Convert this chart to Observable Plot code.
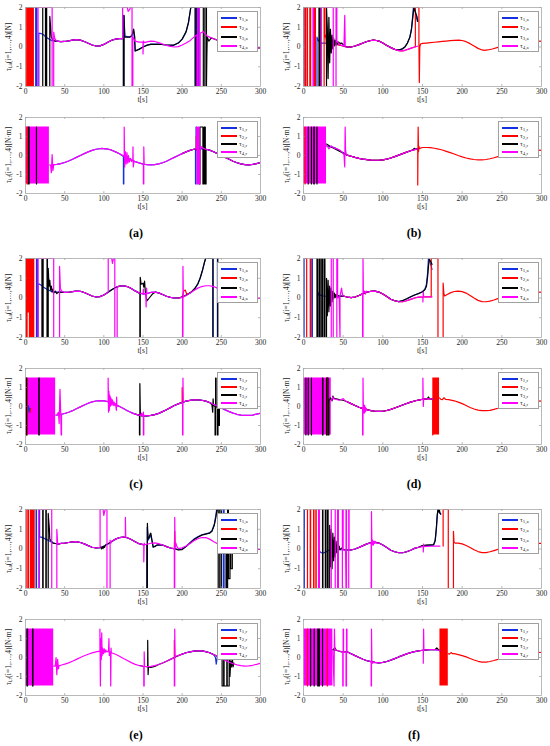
<!DOCTYPE html>
<html><head><meta charset="utf-8">
<script src="https://cdn.jsdelivr.net/npm/d3@7"></script>
<script src="https://cdn.jsdelivr.net/npm/@observablehq/plot@0.6"></script>
<style>
body{margin:0;background:#fff;}
#fig{position:relative;width:550px;height:746px;overflow:hidden;font-family:"Liberation Serif",serif;color:#262626;background:#fff;}
#fig svg{position:absolute;overflow:visible;}
.ylab{position:absolute;white-space:nowrap;font-size:7.5px;transform:translate(-50%,-50%) rotate(-90deg);}
.xlab{position:absolute;font-size:7.5px;transform:translateX(-50%);white-space:nowrap;}
.leg{position:absolute;background:#fff;border:1px solid #a0a0a0;box-sizing:border-box;}
.leg .ln{position:absolute;left:3px;width:16px;height:2px;}
.leg .tx{position:absolute;left:21px;font-size:7px;line-height:8px;white-space:nowrap;}
.tag{position:absolute;font-weight:bold;font-size:12px;transform:translateX(-50%);color:#000;}
sub{font-size:70%;vertical-align:-0.3em;line-height:0;}
</style>
</head><body>
<div id="fig"></div>
<script>
const T_TICKS=[0,50,100,150,200,250,300];
const V_TICKS=[-2,-1,0,1,2];
const COLORS=["#1530e0","#ff0000","#000000","#ff00ff"];
const LEG_IDX=["1","2","3","4"];
const TAGS=["(a)","(b)","(c)","(d)","(e)","(f)"];
const _=null;

// ---------- (a) ----------
const A1_BASE=[[38,0.38],[40,0.3],[45,0.27],[50,0.28],[55,0.31],[60,0.35],[65,0.37],[70,0.35],[75,0.28],[80,0.19],[85,0.1],[90,0.05],[95,0.06],[100,0.13],[105,0.24],[110,0.34],[115,0.4],[120,0.42],[124,0.42],[155,0.26],[160,0.3],[165,0.28],[170,0.22],[175,0.15],[180,0.08],[185,0.03],[190,0.0],[195,0.02],[200,0.1],[205,0.2],[210,0.32],[232,0.55],[240,0.42],[245,0.35],[250,0.3],[255,0.25],[260,0.2],[265,0.15],[270,0.1],[275,0.06],[280,0.03],[285,0.0],[290,-0.02],[295,-0.04],[300,-0.05]];
const A1_BLUE=[[13,-2],[13,2],[14.5,2],[14.5,-2],[17,-2],[17,0.7],[20,0.68],[23,0.62],[26,0.5],[30,0.4],[34,0.32],[38,0.3],["B",40,124],[125,0.42],[125,-2],[125.5,-2],[125.5,1.6],[127,0.55],[133,0.5],[136,0.55],[138,0.9],[140,-0.2],[145,-0.1],[150,0.0],[155,0.1],[160,0.15],[170,0.15],[180,0.1],[189,0.08],[195,0.2],[200,0.4],[205,0.75],[208,1.2],[211,2],[217,2],[217,-2],[218.5,-2],[218.5,2],[221,2],[221,-2],[222,-2]];
const A1_RED=[[0,2],[0.8,2],[0.8,-2],[2.5,-2],[2.5,2],[3.5,2],[3.5,-2],[5,-2],[5,2],[6,2],[6,-2],[7.5,-2],[7.5,2],[8.5,2],[8.5,-2],[10,-2],[10,2],[10.5,2]];
const A1_BLACK=[[22,2],[22,-2],[25.5,-2],[25.5,2],[27,2],[27,-2],[31,-2],[31,1.55],[33,0.5],[35,0.35],[38,0.3],["B",40,124],[125,0.42],[125,-2],[125.8,-2],[125.8,1.6],[126.5,0.5],[133,0.5],[136,0.6],[138,0.9],[139.5,0.5],[140,-0.2],[145,-0.12],[150,0.0],[155,0.08],[160,0.13],[170,0.14],[180,0.1],[189,0.1],[195,0.2],[200,0.4],[205,0.78],[208,1.25],[211,2],[216.5,2],[216.5,-2],[219,-2],[219,2],[227,2],[227,-2],[229,-2],[229,2],[231,2],[231,-2],[231.5,-0.45],[232,0.5],[234,0.3],[237,0.45],[240,0.42],["B",245,300]];
const A1_MAG=[[16,-2],[16,2],[34,2],[34,-2],[36,-2],[36,0.75],[37,0.5],["B",38,124],[124,2],[130,2],[131,1.8],[133,1.9],[134,2],[136,2],[136,-2],[137,-2],[137,0.5],[140,0.3],[145,0.25],[150,0.25],[150,-0.35],[150.5,0.3],[152,0.22],["B",155,210],[215,0.5],[218,0.6],[219,0.6],[219,-2],[220,-2],[220,2],[222,2],[222,-2],[223,-2],[223,0.7],[227,0.78],["B",232,300]];

const A2_BASE=[[35,-0.48],[40,-0.47],[45,-0.43],[50,-0.37],[55,-0.29],[60,-0.2],[65,-0.1],[70,0.0],[75,0.1],[80,0.19],[85,0.27],[90,0.33],[97,0.37],[105,0.34],[110,0.28],[115,0.19],[120,0.09],[125,-0.02],[130,-0.13],[135,-0.23],[140,-0.32],[145,-0.39],[150,-0.45],[155,-0.48],[160,-0.49],[165,-0.48],[170,-0.44],[175,-0.38],[180,-0.3],[185,-0.2],[190,-0.1],[195,0.0],[200,0.1],[205,0.19],[210,0.27],[215,0.33],[220,0.36],[225,0.36],[230,0.33],[235,0.28],[240,0.2],[245,0.1],[250,0.0],[255,-0.1],[260,-0.2],[265,-0.3],[270,-0.38],[275,-0.44],[280,-0.48],[285,-0.49],[290,-0.47],[295,-0.43],[300,-0.37]];
const A2_BLOCKS=[[0,30.5,-1.5,1.5,3]];
const A2_BLUE=[["B",35,124],[125,-0.05],[125,-1.5],[125.5,-1.5],[125.5,0.0],[127,-0.1],["B",130,216],[217,0.35],[217,-1.5],[217.7,-1.5],[217.7,1.5],[218.3,1.5],[218.3,0.3],["B",225,300]];
const A2_RED=[[2,-1.5],[2,1.5],[2.6,1.5],[2.6,-1.5],_,[217,0.34],[218,0.34],[218,1.0],[218.5,0.3],_];
const A2_BLACK=[[4,-1.5],[4,1.5],[4.6,1.5],[4.6,-1.5],_,[14,-1.5],[14,1.5],_,["B",200,220],[222,0.36],[222,-1.5],[222.7,-1.5],[222.7,1.5],[226.5,1.5],[226.5,-1.5],[228,-1.5],[228,1.5],[229.5,1.5],[229.5,-1.5],[230.5,-1.5],[230.5,0.33],["B",235,300]];
const A2_MAG=[[30.5,-0.5],[32,-0.5],[33,-0.9],[34,0.05],[35,-0.8],[36,-0.48],["B",40,124],[125,-0.02],[126,-0.05],[126,1.5],[126.6,-0.6],[127.5,0.2],[128.5,-0.45],[129.5,0.15],[130.5,-0.4],[131.5,0.0],[132.5,-0.35],[134,-0.15],[135.5,-0.32],[137,-0.2],[137.2,0.45],[137.6,-0.6],[138.5,-0.3],["B",140,149],[150.5,-0.46],[150.5,-1.5],[151,-1.5],[151,0.45],[151.5,-0.46],["B",155,217],[218.5,0.36],[218.5,1.5],[219.2,1.5],[219.2,-1.5],[220.5,-1.5],[220.5,1.5],[221.5,1.5],[221.5,-1.5],[222.5,-1.5],[222.5,0.2],[224,0.48],[226,0.4],["B",230,300]];

// ---------- (b) ----------
const B1_BASE=[[55,0.0],[60,0.0],[65,0.05],[70,0.12],[75,0.2],[80,0.28],[85,0.33],[88,0.35],[92,0.33],[95,0.3],[100,0.2],[105,0.08],[110,-0.03],[115,-0.12],[120,-0.18],[123,-0.2],[127,-0.18],[130,-0.14],[135,-0.07],[140,0.0],[144,0.04]];
const B1_BLUE=[[0,-2],[0,2],[0.6,2],[0.6,-2],_,[17,-2],[17,0.5],[19,0.3],[22,0.2],[30,0.2],[40,0.15],[50,0.05],["B",55,119],[120,-0.15],[125,-0.1],[128,0.0],[131,0.2],[134,0.5],[136,0.9],[137.5,1.5],[138.5,2],[139.5,2],[140.5,1.9],[142,1.6],[143.5,1.3]];
const B1_RED=[[0,2],[2,2],[2,-2],[3,-2],[3,2],[5,2],[5,-2],[8,-2],[8,2],[9,2],[9,-2],[14,-2],[14,2],[15,2],[15,-2],[26,-2],[26,2],[27,2],[27,0.5],[28,0.6],[29,0.1],[35,0.15],[45,0.1],[50,0.05],["B",55,140],[141,0.0],[141,2],[145.5,2],[145.5,0.2],[146,-1.8],[146.6,0.0],[147.5,0.15],[150,0.18],[155,0.2],[160,0.22],[165,0.24],[170,0.26],[175,0.28],[180,0.3],[185,0.32],[190,0.34],[196,0.35],[200,0.33],[205,0.27],[210,0.17],[215,0.05],[220,-0.07],[225,-0.15],[228,-0.17],[232,-0.15],[238,-0.1],[245,-0.02],[250,0.04],[255,0.1],[260,0.14],[265,0.17],[270,0.19],[275,0.2],[280,0.22],[285,0.24],[290,0.26],[295,0.28],[300,0.3]];
const B1_BLACK=[[19.5,2],[19.5,-2],[21,-2],[21,2],[22,2],[22,-2],[29,-2],[29,2],[30,1.0],[31,-1.6],[32,1.5],[33,-0.8],[34,0.9],[35,-0.3],[36,0.6],[37,-0.1],[38,0.45],[39,0.05],[40,0.35],[41,0.1],[42,0.3],[43,0.15],[44,0.25],[46,0.18],[48,0.2],[50,0.12],[52,0.05],["B",55,119],[120,-0.15],[125,-0.08],[128,0.02],[131,0.2],[134,0.48],[136,0.85],[137.5,1.4],[139,1.95],[140,1.9],[141.5,1.7],[143,1.55],[144,1.3]];
const B1_MAG=[[12,-2],[12,2],[12.6,2],[12.6,-2],_,[22,-2],[22,2],[37.5,2],[37.5,-2],[41,-2],[41,2],[42,2],[42,0.3],[45,0.15],[48,0.08],[51,0.05],[52,1.6],[52.6,0.0],["B",55,144]];

const B2_BASE=[[55,0.02],[60,-0.04],[65,-0.1],[70,-0.15],[75,-0.19],[80,-0.22],[85,-0.24],[90,-0.25],[95,-0.25],[100,-0.23],[105,-0.19],[110,-0.13],[115,-0.06],[120,0.02],[125,0.1],[130,0.18],[135,0.25],[140,0.31],[144,0.35]];
const B2_BLOCKS=[[0,29,-1.5,1.5,3]];
const B2_BLUE=[[29,0.5],[35,0.45],[40,0.4],[50,0.15],["B",55,144]];
const B2_RED=[[2,-1.5],[2,1.5],_,["B",55,143],[144,0.36],[144,-1.55],[144.5,1.5],[145,0.2],[145.5,0.5],[146,0.35],[148,0.4],[150,0.42],[155,0.42],[160,0.41],[165,0.38],[170,0.34],[175,0.29],[180,0.22],[185,0.15],[190,0.08],[195,0.0],[200,-0.07],[205,-0.13],[210,-0.18],[215,-0.21],[220,-0.23],[225,-0.23],[230,-0.21],[235,-0.17],[240,-0.12],[245,-0.06],[250,0.0],[255,0.06],[260,0.12],[265,0.18],[270,0.23],[275,0.28],[280,0.3],[285,0.32],[290,0.32],[295,0.3],[300,0.27]];
const B2_BLACK=[[6,-1.5],[6,1.5],_,[10,-1.5],[10,1.5],_,[13,-1.5],[13,1.5],[13.6,1.5],[13.6,-1.5],_,[17,-1.5],[17,1.5],_,[29,0.6],[31,0.55],[33,0.5],[35,0.45],["B",55,135],[138,0.3],[139.5,0.38],[141,0.33],["B",144,144]];
const B2_MAG=[[29,0.55],[30,0.5],[32,0.35],[35,0.5],[38,0.4],[42,0.35],[45,0.3],[48,0.2],[50,0.1],[51,0.05],[52,-0.6],[52.5,1.5],[53,0.3],[54,0.05],["B",55,144]];

// ---------- (c) ----------
const C1_BASE=[[45,0.3],[50,0.28],[55,0.29],[60,0.32],[65,0.35],[70,0.34],[75,0.28],[80,0.19],[85,0.1],[90,0.05],[95,0.07],[100,0.15],[105,0.28],[110,0.42],[115,0.53],[120,0.6],[125,0.62],[130,0.58],[135,0.48],[140,0.36],[145,0.26],[150,0.2],[155,0.22],[160,0.28],[165,0.3],[170,0.26],[175,0.18],[180,0.09],[185,0.03],[190,0.0],[195,0.0],[200,0.04],[205,0.13],[210,0.25],[215,0.38],[220,0.5],[225,0.58],[230,0.62],[235,0.62],[240,0.58],[245,0.5],[250,0.4],[255,0.3],[260,0.21],[265,0.14],[270,0.08],[275,0.04],[280,0.01],[285,-0.01],[290,-0.02],[295,-0.02],[300,0.0]];
const C1_BLUE=[[14,-2],[14,2],[15.5,2],[15.5,-2],[16,-2],[16,0.7],[18,0.7],[20,0.65],[23,0.55],[27,0.45],[32,0.35],[38,0.3],[44,0.3],["B",45,204],[208,0.2],[212,0.3],[216,0.45],[220,0.7],[223,1.0],[226,1.4],[228.5,1.8],[230,2],[239,2],[239,-2],[245,-2],[245,2]];
const C1_RED=[[0,2],[0.8,2],[0.8,-2],[2,-2],[2,2],[3,2],[3,-0.7],[3.5,1.5],[4,-0.7],[4.5,2],[5,2],[5,-2],[6.5,-2],[6.5,2],[7.5,2],[7.5,-2],[8.5,-2],[8.5,2],[9.5,2],[9.5,-2],[10.5,-2],[10.5,2],[11,2],_,[195,0.0],[200,0.04],[202,0.35],[204,0.4],[206,0.18],[210,0.25],_];
const C1_BLACK=[[21,-2],[21,2],[22.5,2],[22.5,-2],[27.5,-2],[27.5,2],[28,2],[28,-2],[29,-2],[29,1.5],[30,0.6],[31,0.9],[32,0.4],[33,0.6],[34,0.3],[35,0.45],[36,0.25],[38,0.35],[40,0.22],[42,0.3],[44,0.28],["B",45,144],[146,0.23],[146,-2],[146.5,-2],[146.5,1.05],[147.5,0.7],[150,0.75],[151,0.55],[152,0.85],[153,0.3],[155,-0.15],[158,0.0],[162,0.2],[166,0.3],["B",170,204],[208,0.21],[212,0.32],[216,0.48],[220,0.72],[223,1.02],[226,1.42],[228.5,1.82],[230,2],[239.5,2],[239.5,-2],[245.5,-2],[245.5,2]];
const C1_MAG=[[16,-2],[16,2],[36,2],[36,-2],[43.5,-2],[43.5,1.6],[44.5,0.5],[46,0.35],["B",50,105],[105.6,0.3],[105.6,2],[110,2],[111,1.75],[112,1.95],[112.5,2],[114,2],[114,-2],[117,-2],[117,0.55],["B",120,149],[150,0.2],[150.5,0.45],[151,0.2],[153.5,0.22],[154,-0.45],[154.5,0.5],[155,0.22],["B",160,199],[200.5,0.03],[200.5,-2],[201,-2],[201,1.6],[201.5,0.05],["B",205,300]];

const C2_BASE=[[40,-0.45],[45,-0.42],[50,-0.37],[55,-0.3],[60,-0.22],[65,-0.12],[70,-0.02],[75,0.08],[80,0.17],[85,0.24],[90,0.29],[95,0.31],[100,0.3],[105,0.26],[110,0.2],[115,0.11],[120,0.0],[125,-0.11],[130,-0.22],[135,-0.32],[140,-0.4],[145,-0.45],[150,-0.48],[155,-0.49],[160,-0.47],[165,-0.43],[170,-0.36],[175,-0.27],[180,-0.17],[185,-0.06],[190,0.05],[195,0.14],[200,0.22],[205,0.28],[210,0.32],[215,0.35],[220,0.35],[225,0.33],[230,0.28],[235,0.21],[240,0.12],[245,0.02],[250,-0.08],[255,-0.18],[260,-0.27],[265,-0.35],[270,-0.41],[275,-0.45],[280,-0.47],[285,-0.47],[290,-0.45],[295,-0.4],[300,-0.35]];
const C2_BLOCKS=[[0,38.5,-1.5,1.5,3]];
const C2_BLUE=[[3.5,0.05],[4.5,-0.3],[5,-0.1],_,["B",40,300]];
const C2_RED=[[2,-1.5],[2,1.5],_,[6,-0.3],[6.5,-0.1],_,[199,0.2],[200,0.2],[200,1.0],[200.6,0.2],_];
const C2_BLACK=[[1,-1.5],[1,1.5],[1.5,1.5],[1.5,-1.5],_,[17,-1.5],[17,1.5],[17.5,1.5],[17.5,-1.5],_,["B",140,145],[145.5,-0.45],[145.5,-1.5],[146,-1.5],[146,1.2],[146.6,-0.4],[148,-0.5],["B",150,237],[238,0.1],[239,-0.3],[239.5,0.4],[240,0.05],[242,0.0],[242,-1.5],[242.7,-1.5],[242.7,1.5],[243.3,1.5],[243.3,0.0],[245,-0.05],[245,-1.5],[245.7,-1.5],[245.7,1.5],[246.5,1.5],[246.5,-1.0],[247.5,-1.0],[247.5,1.5],[248,1.5],[248,-0.1],[250,-0.08]];
const C2_MAG=[[38.5,-0.45],[40,-0.45],[42,-0.3],[43,-0.9],[44,0.9],[45,-0.4],[45.5,-1.5],[46,-1.5],[46,-0.4],["B",50,105],[105.5,0.27],[105.5,1.5],[106,-0.3],[106.5,0.8],[107,-0.2],[107.5,0.6],[108,0.0],[108.5,0.5],[109,0.05],[109.5,0.4],[110,0.1],[111,0.35],[112,0.05],[113,0.25],[114,0.05],[115,0.15],[116,-0.2],[116.3,0.5],[116.7,0.0],[118,0.05],["B",120,145],[147,-0.48],[148,-0.35],[149,-0.5],[150,-0.4],[150.5,-0.3],[150.5,-1.5],[151,-1.5],[151,-0.45],["B",155,199],[200.5,0.22],[200.5,-1.5],[201,-1.5],[201,1.5],[201.5,0.25],["B",205,300]];

// ---------- (d) ----------
const D1_BASE=[[50,0.1],[55,0.05],[60,0.02],[65,0.05],[70,0.13],[75,0.22],[80,0.3],[85,0.34],[90,0.35],[95,0.3],[100,0.2],[105,0.07],[110,-0.06],[115,-0.14],[120,-0.19],[125,-0.19],[130,-0.14],[135,-0.07],[140,0.0],[145,0.04],[150,0.05],[155,0.06],[160,0.06],[162,0.06]];
const D1_BLUE=[[0,-2],[0,2],[0.7,2],[0.7,-2],[10.5,-2],[10.5,2],[11.2,2],[11.2,-2],[18,-2],[18,0.3],[20,0.1],[22,0.15],[25,0.1],[35,0.08],[45,0.1],["B",50,119],[120,-0.18],[125,-0.14],[130,-0.05],[135,0.05],[140,0.15],[145,0.22],[150,0.32],[153,0.45],[155,0.7],[156.5,1.3],[157.5,2],[158.5,2],[159.5,1.8],[161,1.6],[162,1.45]];
const D1_RED=[[0,2],[4,2],[4,-2],[8.5,-2],[8.5,2],[9,2],[9,-2],_,["B",50,160],[161,0.06],[161,2],[169.5,2],[169.5,-2],[176,-2],[176,0.75],[177,0.2],[178,0.1],[180,0.15],[185,0.26],[190,0.33],[195,0.35],[200,0.32],[205,0.25],[210,0.13],[215,0.0],[220,-0.12],[225,-0.18],[230,-0.19],[235,-0.16],[240,-0.1],[245,-0.03],[250,0.03],[255,0.09],[260,0.13],[265,0.16],[270,0.18],[275,0.2],[280,0.22],[285,0.24],[290,0.26],[295,0.28],[300,0.3]];
const D1_BLACK=[[17,-2],[17,2],[18,2],[18,-2],[20,-2],[20,2],[21,2],[21,-2],[23,-2],[23,2],[24,2],[24,-2],[26,-2],[26,2],[27,2],[27,-2],[29,-2],[29,1.0],[30,-0.9],[31,0.9],[32,-0.7],[33,0.6],[34,-0.4],[35,0.5],[36,-0.2],[37,0.35],[38,-0.05],[39,0.25],[40,0.02],[41,0.18],[42,0.05],[44,0.12],[46,0.08],[48,0.1],["B",50,119],[120,-0.18],[125,-0.13],[130,-0.04],[135,0.06],[140,0.15],[145,0.23],[150,0.32],[153,0.42],[155,0.6],[156.5,1.1],[157.5,1.6],[158.5,1.95],[159.5,1.9],[161,1.8],[162,1.7]];
const D1_MAG=[[35,-2],[35,2],[37.5,2],[37.5,-2],[42,-2],[42,2],[43,2],[43,0.0],[45,0.05],[46,-2],[46,0.1],[48,0.5],[49,0.2],["B",50,74],[74.5,0.22],[74.5,-2],[75,-2],[75,2],[75.5,0.25],[77,0.35],[78,0.2],[79,0.35],[80,0.3],["B",85,149],[150.5,0.05],[150.5,-0.2],[151,0.3],[151.5,0.05],["B",155,162]];

const D2_BASE=[[55,0.25],[60,0.15],[65,0.05],[70,-0.04],[75,-0.11],[80,-0.17],[85,-0.22],[90,-0.25],[95,-0.26],[100,-0.25],[105,-0.21],[110,-0.15],[115,-0.08],[120,0.0],[125,0.08],[130,0.16],[135,0.23],[140,0.29],[145,0.34],[150,0.38],[155,0.4],[160,0.4],[163,0.38]];
const D2_BLOCKS=[[0,35,-1.5,1.5,3],[163,171.5,-1.5,1.5,1]];
const D2_BLUE=[["B",55,163]];
const D2_RED=[[30,-1.5],[30,1.5],_,["B",55,160],[163,0.38],[163,-1.5],_,[171.5,0.45],[173,0.38],[175,0.36],[177,0.46],[179,0.38],[183,0.36],[190,0.3],[195,0.23],[200,0.15],[205,0.05],[210,-0.05],[215,-0.13],[220,-0.19],[225,-0.22],[230,-0.22],[235,-0.2],[240,-0.15],[245,-0.09],[250,-0.02],[255,0.05],[260,0.12],[265,0.18],[270,0.23],[275,0.27],[280,0.3],[285,0.31],[290,0.31],[295,0.3],[300,0.28]];
const D2_BLACK=[[3,-1.5],[3,1.5],_,[6,-1.5],[6,1.5],_,[10,-1.5],[10,1.5],_,[24,-1.5],[24,1.5],[24.5,1.5],[24.5,-1.5],_,[29,-1.5],[29,1.5],[31,1.5],[31,-1.5],[32,-1.5],[32,0.3],[34,0.45],[36,0.3],[37,0.55],[38,0.45],[40,0.42],[45,0.36],[50,0.33],["B",55,155],[156,0.42],[157.5,0.5],[159,0.42],["B",160,163]];
const D2_MAG=[[35,0.3],[37,0.5],[38,0.4],[40,0.38],[45,0.33],[48,0.38],[50,0.42],[52,0.32],["B",55,74],[74.5,-0.1],[74.5,-1.5],[75,-1.5],[75,1.5],[75.5,-0.3],[76,0.1],[76.5,-0.35],[77,0.05],[77.5,-0.3],[78,-0.05],[78.5,-0.25],[79,-0.1],[80,-0.17],["B",85,150],[150.5,0.38],[150.5,1.5],[151,0.0],[151.5,0.39],["B",155,163]];

// ---------- (e) ----------
const E1_BASE=[[42,0.25],[45,0.28],[50,0.3],[55,0.33],[60,0.36],[65,0.37],[70,0.33],[75,0.26],[80,0.17],[85,0.09],[90,0.05],[95,0.07],[100,0.14],[105,0.25],[110,0.38],[115,0.5],[120,0.58],[125,0.6],[130,0.57],[135,0.48],[140,0.37],[145,0.27],[150,0.22],[155,0.24],[160,0.29],[165,0.31],[170,0.27],[175,0.2],[180,0.12],[185,0.05],[190,0.02],[195,0.02],[200,0.06],[205,0.15],[210,0.28],[215,0.42],[220,0.52],[225,0.58],[230,0.58],[235,0.5],[240,0.38],[245,0.27],[250,0.2],[255,0.14],[260,0.1],[265,0.06],[270,0.04],[275,0.02],[280,0.0],[285,-0.01],[290,-0.02],[295,-0.02],[300,-0.02]];
const E1_BLUE=[[13.5,-2],[13.5,2],[14,2],[14,-2],[17.5,-2],[17.5,2],[18,2],[18,0.6],[20,0.6],[23,0.55],[26,0.5],[30,0.42],[34,0.33],[38,0.28],["B",42,154],[155,0.24],[155,-2],[155.4,-2],[155.4,1.1],[156.5,0.45],[160,0.7],[163,0.1],[168,0.2],["B",175,189],[195,-0.03],[200,0.0],[205,0.14],[210,0.32],[215,0.5],[220,0.62],[225,0.72],[230,0.77],[235,0.82],[238,0.92],[241,1.25],[243,1.7],[244,2],[252.5,2],[252.5,-2],[253.5,-2],[253.5,2],[254,2]];
const E1_RED=[[0,2],[0.8,2],[0.8,-2],[3,-2],[3,2],[4,2],[4,-2],[6.5,-2],[6.5,2],[7.5,2],[7.5,-2],[8.5,-2],[8.5,2],[9.5,2],[9.5,-2],[11,-2],[11,2],[11.5,2],_,[188,0.02],[190,0.02],[190.5,0.9],[191,0.1],_];
const E1_BLACK=[[22,-2],[22,2],[22.5,2],[22.5,-2],[26,-2],[26,2],[26.5,2],[26.5,-2],[29,-2],[29,1.8],[30.5,1.0],[31,0.5],[33,0.4],[35,0.3],[38,0.28],["B",42,95],[96,0.1],[97,0.0],[98,0.12],[99,0.02],[100,0.15],[101,0.08],[102,0.2],["B",105,154],[155,0.24],[155,-2],[155.6,-2],[155.6,1.3],[156.5,0.5],[158,0.6],[159,0.75],[160,0.8],[161,0.55],[163,0.1],[165,0.12],[168,0.2],[172,0.22],["B",175,189],[192,0.0],[195,-0.05],[200,-0.03],[205,0.12],[210,0.3],[215,0.47],[220,0.6],[225,0.7],[230,0.75],[235,0.8],[238,0.9],[241,1.2],[243,1.6],[244.5,2],[246,2],[246,-2],[248,-2],[248,2],[250,2],[250,-2],[256,-2],[256,1.0],[256.5,1.0],[256.5,-2],[258,-2],[258,2],[259,2],[259,-1.5],[261,-1.5],[261,0.5],[262,0.5],[262,-1.0],[264,-1.0],[264,0.5],[266,0.1],[270,0.05]];
const E1_MAG=[[17,-2],[17,2],[33.5,2],[33.5,-2],[40,-2],[40,1.0],[41,0.3],["B",42,94],[95.2,0.08],[95.2,2],[99,2],[100,1.7],[101,1.9],[102,2],[104,2],[104,-2],[108,-2],[108,0.45],[109,0.3],[110,0.38],["B",115,127],[127.5,0.6],[127.5,1.6],[128,0.6],["B",130,150],[151,0.22],[151,-0.65],[151.5,0.3],[152,0.22],["B",155,189],[190,0.02],[190,-2],[190.5,-2],[190.5,1.6],[191,0.05],[192,0.3],[193,0.15],[195,0.02],["B",200,300]];

const E2_BASE=[[37,-0.45],[40,-0.45],[45,-0.41],[50,-0.35],[55,-0.28],[60,-0.2],[65,-0.1],[70,0.0],[75,0.09],[80,0.17],[85,0.24],[90,0.3],[95,0.34],[100,0.35],[105,0.32],[110,0.26],[115,0.17],[120,0.07],[125,-0.05],[130,-0.16],[135,-0.27],[140,-0.36],[145,-0.42],[150,-0.46],[155,-0.48],[160,-0.47],[165,-0.43],[170,-0.37],[175,-0.29],[180,-0.2],[185,-0.1],[190,0.0],[195,0.1],[200,0.18],[205,0.25],[210,0.3],[215,0.34],[220,0.35],[225,0.35],[230,0.31],[235,0.25],[240,0.16],[245,0.06],[250,-0.05],[255,-0.15],[260,-0.25],[265,-0.33],[270,-0.39],[275,-0.43],[280,-0.45],[285,-0.44],[290,-0.41],[295,-0.36],[300,-0.3]];
const E2_BLOCKS=[[0,36,-1.5,1.5,3]];
const E2_BLUE=[["B",200,240],[242.5,0.0],[243.5,-0.35],[245,0.06],_];
const E2_RED=[[189,-0.02],[190,0.0],[190,0.9],[190.4,0.0],_];
const E2_BLACK=[[2,-1.5],[2,1.5],[2.6,1.5],[2.6,-1.5],_,[9,-1.5],[9,1.5],[9.5,1.5],[9.5,-1.5],_,["B",145,154],[155,-0.48],[156,-0.48],[156,0.9],[156.5,-0.9],[157,-0.5],[160,-0.52],[165,-0.47],["B",170,249],[250,-0.05],[251,-0.05],[251,-1.5],[253,-1.5],[253,0.3],[253.5,0.3],[253.5,-1.5],[257,-1.5],[257,0.4],[257.5,0.4],[257.5,-1.5],[260,-1.5],[260,0.0],[261,0.0],[261,-1.0],[262,-0.2],[263,-0.5],[264,0.0],[265,-0.5],[266,-0.3]];
const E2_MAG=[[36,-0.45],[38,-0.45],[39,0.0],[40,-0.9],[41,-0.1],[42,-0.6],[43,-0.42],["B",45,94],[95,0.34],[95,1.5],[95.6,-1.5],[96.2,1.0],[96.8,-0.1],[97.3,1.3],[97.8,0.1],[98.5,0.5],[99.5,0.2],[100.5,0.45],[101.5,0.25],[102.5,0.4],[103.5,0.3],[105,0.32],[106,0.3],[106.5,1.0],[107,0.1],[108,0.3],[108.5,0.2],[108.8,-1.5],[109.2,0.5],[109.6,0.25],["B",115,150],[151,-0.46],[151,-1.5],[151.5,-1.5],[151.5,0.3],[152,-0.46],["B",155,189],[190,0.0],[190,-1.5],[190.5,-1.5],[190.5,1.5],[191,0.05],["B",195,300]];

// ---------- (f) ----------
const F1_BASE=[[57,-0.05],[60,-0.05],[65,0.0],[70,0.08],[75,0.17],[80,0.26],[85,0.32],[90,0.34],[95,0.3],[100,0.2],[105,0.07],[110,-0.06],[115,-0.14],[120,-0.19],[125,-0.19],[130,-0.14],[135,-0.06],[140,0.03],[145,0.09],[150,0.12],[155,0.13],[160,0.14],[165,0.15],[170,0.15]];
const F1_BLUE=[[0.5,-2],[0.5,2],[1,2],[1,-2],_,[20,-2],[20,-0.1],[22,-0.18],[25,-0.2],[28,-0.15],[30,-0.1],[35,0.0],[40,0.0],[50,-0.05],["B",57,145],[150,0.16],[155,0.18],[160,0.18],[164,0.2],[166,0.4],[167.5,1.0],[168.5,1.6],[169.5,2],[171,2],[171.5,1.85],[172.5,1.8],[173,1.75]];
const F1_RED=[[0,2],[5,2],[5,-2],[8.5,-2],[8.5,2],[9,2],[9,-2],[12.7,-2],[12.7,2],[13.2,2],[13.2,-2],[15.6,-2],[15.6,2],[16,2],[16,-2],_,[176,0.15],[176,2],[182.5,2],[182.5,-2],[189,-2],[189,0.9],[189.7,0.35],[191,0.3],[195,0.3],[200,0.26],[205,0.18],[210,0.08],[215,-0.04],[220,-0.13],[225,-0.18],[230,-0.18],[235,-0.14],[240,-0.08],[245,-0.02],[250,0.04],[255,0.09],[260,0.13],[265,0.16],[270,0.19],[275,0.21],[280,0.23],[285,0.25],[290,0.27],[295,0.28],[300,0.29]];
const F1_BLACK=[[24,-2],[24,2],[24.5,2],[24.5,-2],[27.5,-2],[27.5,2],[28,2],[28,-2],[30,-2],[30,2],[31,2],[31,-2],[33,-2],[33,1.2],[34,-0.9],[35,1.0],[36,-1.0],[37,0.8],[38,-0.6],[39,0.6],[40,-0.4],[41,0.4],[42,-0.2],[43,0.25],[44,-0.1],[45,0.15],[46,-0.05],[48,0.05],[50,-0.02],[55,-0.05],["B",57,145],[150,0.17],[155,0.2],[160,0.21],[164,0.22],[166,0.45],[167.5,1.1],[168.5,1.7],[169.5,2],[170.5,2],[171,1.85],[171.5,1.95],[172,1.8],[173,1.78]];
const F1_MAG=[[19,-2],[19,2],[20,2],[20,-2],_,[35,-2],[35,2],[40,2],[40,-2],[43,-2],[43,2],[44,2],[44,-2],[49,-2],[49,2],[50,2],[50,-0.05],[53,-0.05],[53.6,-2],[53.6,2],[54.2,2],[54.2,-2],[57,-2],[57,2],[57.5,2],[57.5,-0.05],["B",60,84],[85.3,0.32],[85.3,-2],[85.7,-2],[85.7,1.9],[86.2,0.2],[87,0.45],[88,0.2],[89,0.4],[90,0.28],[91,0.38],[92,0.3],["B",95,150],[151,0.12],[151,-0.15],[151.4,0.25],[151.8,0.12],["B",155,170],[172,0.15]];

const F2_BASE=[[55,0.3],[60,0.2],[65,0.1],[70,0.0],[75,-0.09],[80,-0.17],[85,-0.22],[90,-0.26],[95,-0.28],[100,-0.26],[105,-0.21],[110,-0.14],[115,-0.06],[120,0.03],[125,0.11],[130,0.19],[135,0.26],[140,0.31],[145,0.35],[150,0.38],[155,0.4],[160,0.41],[165,0.41],[170,0.38],[172,0.35]];
const F2_BLOCKS=[[0,37,-1.5,1.5,3],[172,182.5,-1.5,1.5,1]];
const F2_BLUE=[["B",55,170]];
const F2_RED=[[5,-1.5],[5,1.5],_,[30,-1.5],[30,1.5],_,[182.5,0.2],[184,0.18],[186,0.26],[188,0.2],[190,0.2],[195,0.15],[200,0.1],[205,0.03],[210,-0.05],[215,-0.13],[220,-0.2],[225,-0.24],[230,-0.24],[235,-0.21],[240,-0.16],[245,-0.1],[250,-0.03],[255,0.03],[260,0.09],[265,0.14],[270,0.18],[275,0.22],[280,0.25],[285,0.28],[290,0.29],[295,0.28],[300,0.26]];
const F2_BLACK=[[9,-1.5],[9,1.5],_,[13.5,-1.5],[13.5,1.5],_,[18,-1.5],[18,1.5],[18.6,1.5],[18.6,-1.5],_,[20,-1.5],[20,1.5],_,[24,-1.5],[24,1.5],_,[37,0.4],[38,0.45],[39,0.35],[40,0.5],[41,0.38],[45,0.33],[48,0.3],["B",55,165],[166,0.42],[168,0.5],[170,0.42],[172,0.35]];
const F2_MAG=[[37,0.35],[38.5,-1.5],[39,1.5],[39.5,0.45],[42,0.38],[45,0.35],[48,0.3],[49.5,0.3],[49.5,-1.5],[50,-1.5],[50,1.5],[50.5,1.5],[50.5,0.3],[53.6,0.28],[53.6,-1.5],[54.2,-1.5],[54.2,1.5],[54.8,1.5],[54.8,0.3],["B",55,84],[85.3,-0.22],[85.3,-1.5],[85.7,-1.5],[85.7,1.5],[86.2,-0.2],[87,-0.3],[88,-0.22],[89,-0.28],["B",90,150],[151,0.39],[151,-0.3],[151.4,1.5],[151.8,0.39],["B",155,172]];

const PANELS=[
 {col:0,row:0,top:{base:A1_BASE,blocks:[],series:[A1_BLUE,A1_RED,A1_BLACK,A1_MAG]},bot:{base:A2_BASE,blocks:A2_BLOCKS,series:[A2_BLUE,A2_RED,A2_BLACK,A2_MAG]}},
 {col:1,row:0,top:{base:B1_BASE,blocks:[],series:[B1_BLUE,B1_RED,B1_BLACK,B1_MAG]},bot:{base:B2_BASE,blocks:B2_BLOCKS,series:[B2_BLUE,B2_RED,B2_BLACK,B2_MAG]}},
 {col:0,row:1,top:{base:C1_BASE,blocks:[],series:[C1_BLUE,C1_RED,C1_BLACK,C1_MAG]},bot:{base:C2_BASE,blocks:C2_BLOCKS,series:[C2_BLUE,C2_RED,C2_BLACK,C2_MAG]}},
 {col:1,row:1,top:{base:D1_BASE,blocks:[],series:[D1_BLUE,D1_RED,D1_BLACK,D1_MAG]},bot:{base:D2_BASE,blocks:D2_BLOCKS,series:[D2_BLUE,D2_RED,D2_BLACK,D2_MAG]}},
 {col:0,row:2,top:{base:E1_BASE,blocks:[],series:[E1_BLUE,E1_RED,E1_BLACK,E1_MAG]},bot:{base:E2_BASE,blocks:E2_BLOCKS,series:[E2_BLUE,E2_RED,E2_BLACK,E2_MAG]}},
 {col:1,row:2,top:{base:F1_BASE,blocks:[],series:[F1_BLUE,F1_RED,F1_BLACK,F1_MAG]},bot:{base:F2_BASE,blocks:F2_BLOCKS,series:[F2_BLUE,F2_RED,F2_BLACK,F2_MAG]}}
];

function build(base,items){
  const out=[];
  for(const it of items){
    if(it===null){out.push({t:NaN,v:NaN});continue;}
    if(it[0]==="B"){for(const p of base){if(p[0]>=it[1]&&p[0]<=it[2])out.push({t:p[0],v:p[1]});}continue;}
    out.push({t:it[0],v:it[1]});
  }
  return out;
}

const COLS=[{left:0,mL:25,mR:15,tagX:136,yLabX:8},{left:275,mL:28,mR:9,tagX:414,yLabX:286}];
const ROW_STEP=251;
const KINDS={
  top:{dy:0,h:110,mT:7,mB:24,sub:"a",unit:"N",legTop:11,legH:41},
  bot:{dy:110,h:100,mT:7,mB:17,sub:"r",unit:"N·m",legTop:121,legH:37}
};
const fig=document.getElementById("fig");

function addDiv(cls,html,style){const d=document.createElement("div");d.className=cls;d.innerHTML=html;Object.assign(d.style,style);fig.appendChild(d);return d;}

function drawPlot(spec,col,row,kind){
  const K=KINDS[kind],C=COLS[col];
  const oy=row*ROW_STEP;
  const marks=[];
  for(const b of spec.blocks){
    marks.push(Plot.rect([{t0:b[0],t1:b[1],lo:b[2],hi:b[3]}],{x1:"t0",x2:"t1",y1:"lo",y2:"hi",fill:COLORS[b[4]]}));
  }
  spec.series.forEach((s,i)=>{
    marks.push(Plot.line(build(spec.base,s),{x:"t",y:"v",stroke:COLORS[i],strokeWidth:1.2}));
  });
  marks.push(Plot.ruleX(T_TICKS,{x:d=>d,y1:-2,y2:-1.9,stroke:"#888",strokeWidth:0.6}));
  marks.push(Plot.ruleX(T_TICKS,{x:d=>d,y1:2,y2:1.9,stroke:"#888",strokeWidth:0.6}));
  marks.push(Plot.ruleY(V_TICKS,{y:d=>d,x1:0,x2:2.5,stroke:"#888",strokeWidth:0.6}));
  marks.push(Plot.ruleY(V_TICKS,{y:d=>d,x1:300,x2:297.5,stroke:"#888",strokeWidth:0.6}));
  marks.push(Plot.frame({stroke:"#a8a8a8",strokeWidth:0.8}));
  marks.push(Plot.axisX({ticks:T_TICKS,tickSize:0,tickPadding:2,tickFormat:d=>String(d),label:null,fill:"#262626"}));
  marks.push(Plot.axisY({ticks:V_TICKS,tickSize:0,tickPadding:3,tickFormat:d=>String(d),label:null,fill:"#262626"}));
  const svg=Plot.plot({
    width:275,height:K.h,
    marginLeft:C.mL,marginRight:C.mR,marginTop:K.mT,marginBottom:K.mB,
    x:{domain:[0,300]},
    y:{domain:[-2,2]},
    clip:true,
    style:{fontFamily:"'Liberation Serif',serif",fontSize:"7.5px",background:"transparent",overflow:"visible"},
    marks
  });
  svg.style.left=C.left+"px";
  svg.style.top=(oy+K.dy)+"px";
  fig.appendChild(svg);

  const pTop=oy+K.dy+K.mT, pBot=oy+K.dy+K.h-K.mB;
  const pL=C.left+C.mL, pR=C.left+275-C.mR;
  // y label
  addDiv("ylab","τ<sub>i,"+K.sub+"</sub>(i=1,…,4)["+K.unit+"]",{left:C.yLabX+"px",top:((pTop+pBot)/2)+"px"});
  // x label
  addDiv("xlab","t[s]",{left:((pL+pR)/2)+"px",top:(pBot+9)+"px"});
  // legend
  const lw=41;
  const leg=addDiv("leg","",{left:(pR-lw-2)+"px",top:(oy+K.legTop)+"px",width:lw+"px",height:K.legH+"px"});
  const step=(K.legH-4)/4;
  LEG_IDX.forEach((n,i)=>{
    const cy=2+step*(i+0.5);
    const ln=document.createElement("div");ln.className="ln";ln.style.background=COLORS[i];ln.style.top=(cy-1.5)+"px";leg.appendChild(ln);
    const tx=document.createElement("div");tx.className="tx";tx.innerHTML="τ<sub>"+n+","+K.sub+"</sub>";tx.style.top=(cy-4.5)+"px";leg.appendChild(tx);
  });
}

PANELS.forEach((p,k)=>{
  drawPlot(p.top,p.col,p.row,"top");
  drawPlot(p.bot,p.col,p.row,"bot");
  addDiv("tag",TAGS[k],{left:COLS[p.col].tagX+"px",top:(p.row*ROW_STEP+226)+"px"});
});
</script>
</body></html>
